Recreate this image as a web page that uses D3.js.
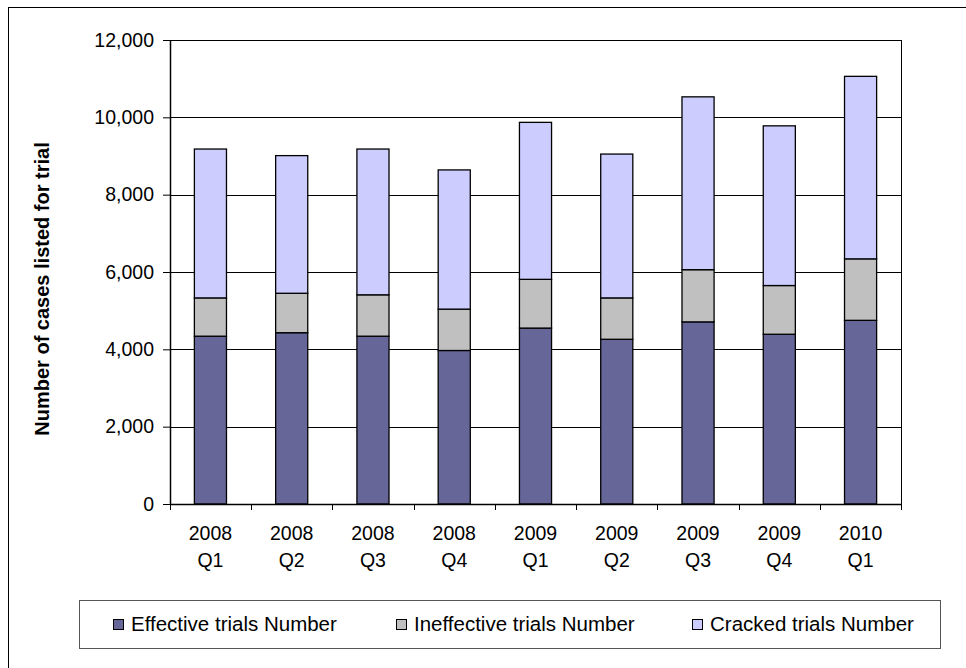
<!DOCTYPE html>
<html>
<head>
<meta charset="utf-8">
<script src="https://cdn.jsdelivr.net/npm/d3@7"></script>
<style>
  html, body { margin: 0; padding: 0; background: #fff; }
  svg { display: block; font-family: "Liberation Sans", Arial, sans-serif; }
</style>
</head>
<body>
<svg id="chart" width="966" height="668"></svg>
<script>
// Quarterly cases listed for trial, split by outcome
const quarters = ["2008 Q1", "2008 Q2", "2008 Q3", "2008 Q4", "2009 Q1", "2009 Q2", "2009 Q3", "2009 Q4", "2010 Q1"];
const effective   = [4340, 4430, 4340, 3970, 4550, 4260, 4710, 4390, 4750];
const ineffective = [990, 1020, 1070, 1070, 1260, 1070, 1350, 1260, 1590];
const cracked     = [3850, 3560, 3770, 3600, 4060, 3720, 4470, 4130, 4720];
const seriesNames = ["Effective trials Number", "Ineffective trials Number", "Cracked trials Number"];
const seriesColors = ["#666699", "#C0C0C0", "#CCCCFF"];
const yTicks = [0, 2000, 4000, 6000, 8000, 10000, 12000];

const rows = quarters.map((q, i) => ({ q, e: effective[i], i2: ineffective[i], c: cracked[i] }));
const keys = ["e", "i2", "c"];

const svg = d3.select("#chart");
const plot = { left: 170, right: 901, top: 40, bottom: 504 };

// outer frame
svg.append("rect")
  .attr("x", 8.5).attr("y", 7.5).attr("width", 1000).attr("height", 700)
  .attr("fill", "none").attr("stroke", "#000").attr("stroke-width", 1);

const x = d3.scaleBand().domain(quarters).range([plot.left, plot.right]).paddingInner(0.605).paddingOuter(0.3);
const y = d3.scaleLinear().domain([0, 12000]).range([plot.bottom, plot.top]);

// gridlines
svg.append("g").selectAll("line").data(yTicks.filter(t => t > 0)).join("line")
  .attr("x1", plot.left).attr("x2", plot.right)
  .attr("y1", d => Math.round(y(d)) + 0.5).attr("y2", d => Math.round(y(d)) + 0.5)
  .attr("stroke", "#000").attr("stroke-width", 1);

// right border of plot area
svg.append("line")
  .attr("x1", plot.right + 0.5).attr("x2", plot.right + 0.5)
  .attr("y1", plot.top).attr("y2", plot.bottom)
  .attr("stroke", "#000").attr("stroke-width", 1);

// stacked bars
const stacked = d3.stack().keys(keys)(rows);
svg.append("g").selectAll("g").data(stacked).join("g")
  .attr("fill", (d, k) => seriesColors[k])
  .selectAll("rect").data(d => d).join("rect")
  .attr("x", d => x(d.data.q))
  .attr("width", x.bandwidth())
  .attr("y", d => y(d[1]))
  .attr("height", d => y(d[0]) - y(d[1]))
  .attr("stroke", "#000").attr("stroke-width", 1.3);

// y axis
const yAxis = svg.append("g")
  .attr("transform", `translate(${plot.left},0)`)
  .call(d3.axisLeft(y).tickValues(yTicks).tickFormat(d3.format(",")).tickSize(7).tickPadding(9));
yAxis.select(".domain").attr("stroke", "#000").attr("stroke-width", 1.5).attr("d", `M0.5,${plot.top}V${plot.bottom}`);
yAxis.selectAll(".tick line").attr("stroke", "#000");
yAxis.selectAll(".tick text").attr("font-size", 19.5).attr("fill", "#000")
  .attr("font-family", "'Liberation Sans', Arial, sans-serif");

// x axis baseline with boundary ticks
const xg = svg.append("g");
xg.append("line")
  .attr("x1", plot.left).attr("x2", plot.right + 1)
  .attr("y1", plot.bottom + 0.5).attr("y2", plot.bottom + 0.5)
  .attr("stroke", "#000").attr("stroke-width", 1.5);
const boundaries = d3.range(quarters.length + 1).map(i => plot.left + i * (plot.right - plot.left) / quarters.length);
xg.selectAll("line.b").data(boundaries).join("line").attr("class", "b")
  .attr("x1", d => Math.round(d) + 0.5).attr("x2", d => Math.round(d) + 0.5)
  .attr("y1", plot.bottom).attr("y2", plot.bottom + 6)
  .attr("stroke", "#000").attr("stroke-width", 1);

// category labels on two lines
const lbl = xg.selectAll("text").data(quarters).join("text")
  .attr("text-anchor", "middle")
  .attr("font-size", 19.5)
  .attr("fill", "#000");
lbl.each(function(q) {
  const parts = q.split(" ");
  const cx = x(q) + x.bandwidth() / 2;
  const t = d3.select(this);
  t.append("tspan").attr("x", cx).attr("y", 540).text(parts[0]);
  t.append("tspan").attr("x", cx).attr("y", 567).text(parts[1]);
});

// y axis title
svg.append("text")
  .attr("transform", "translate(49,289) rotate(-90)")
  .attr("text-anchor", "middle")
  .attr("font-size", 20).attr("font-weight", "bold").attr("fill", "#000")
  .text("Number of cases listed for trial");

// legend
const legend = svg.append("g");
legend.append("rect")
  .attr("x", 79.5).attr("y", 600.5).attr("width", 861).attr("height", 48)
  .attr("fill", "#fff").attr("stroke", "#555").attr("stroke-width", 1);
const legendX = [113, 396, 692];
seriesNames.forEach((name, k) => {
  legend.append("rect")
    .attr("x", legendX[k] + 0.5).attr("y", 619.5).attr("width", 10).attr("height", 10)
    .attr("fill", seriesColors[k]).attr("stroke", "#000").attr("stroke-width", 1);
  legend.append("text")
    .attr("x", legendX[k] + 18).attr("y", 631)
    .attr("font-size", 20.5).attr("fill", "#000")
    .text(name);
});
</script>
</body>
</html>
